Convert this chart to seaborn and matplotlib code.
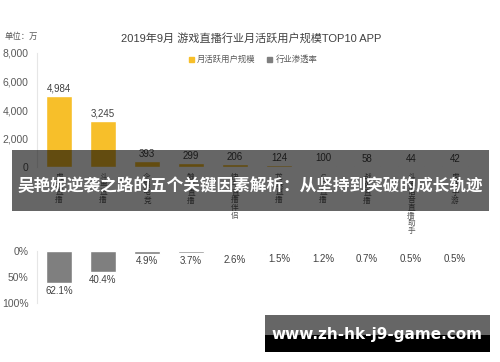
import matplotlib
matplotlib.use("Agg")
import matplotlib.pyplot as plt
from matplotlib.patches import Rectangle, Patch
from matplotlib.ticker import FuncFormatter
import seaborn as sns
import pandas as pd

# data
apps = ["虎牙直播", "斗鱼直播", "企鹅电竞", "触手直播", "快手直播伴侣",
        "龙珠直播", "CC直播", "战旗直播", "斗鱼语音直播助手", "虎牙手游"]
mau = [4984, 3245, 393, 299, 206, 124, 100, 58, 44, 42]          # 万
penetration = [62.1, 40.4, 4.9, 3.7, 2.6, 1.5, 1.2, 0.7, 0.5, 0.5]  # %

title = "2019年9月 游戏直播行业月活跃用户规模TOP10 APP"
unit_text = "单位：万"
legend_labels = ["月活跃用户规模", "行业渗透率"]
banner_text = "吴艳妮逆袭之路的五个关键因素解析：从坚持到突破的成长轨迹"
site_text = "www.zh-hk-j9-game.com"

yellow = "#F7BF2A"
gray = "#7F7F7F"
txt = "#595959"

sns.set_theme(style="white")
plt.rcParams['font.family'] = ['Liberation Sans', 'Noto Sans CJK SC', 'DejaVu Sans']

df = pd.DataFrame({"app": apps, "mau": mau, "pen": penetration})

fig = plt.figure(figsize=(5, 3.62), dpi=100)
W, H = 500, 362

def fx(px):
    return px / W

def fy(py):
    return 1 - py / H

# top panel: monthly active users
ax1 = fig.add_axes([fx(37), fy(167), fx(440), (167 - 53) / H])
sns.barplot(data=df, x="app", y="mau", color=yellow, width=0.6, saturation=1, ax=ax1)
ax1.set_ylim(0, 8000)
ax1.set_xlim(-0.5, 9.5)
ax1.set_yticks([0, 2000, 4000, 6000, 8000])
ax1.yaxis.set_major_formatter(FuncFormatter(lambda v, p: f"{int(v):,}"))
ax1.set_xlabel("")
ax1.set_ylabel("")
ax1.set_xticks(range(len(apps)))
ax1.set_xticklabels(["\n".join(a) for a in apps], fontsize=5.5, color=txt,
                    linespacing=1.1, va="top")
ax1.tick_params(axis="x", length=0, pad=5)
ax1.tick_params(axis="y", length=0, pad=6, labelsize=7.5, labelcolor=txt)
for i, v in enumerate(mau):
    ax1.text(i, v + 150, f"{v:,}", ha="center", va="bottom", fontsize=7, color="#404040")

# bottom panel: penetration
ax2 = fig.add_axes([fx(37), fy(303), fx(440), (303 - 251) / H])
sns.barplot(data=df, x="app", y="pen", color=gray, width=0.6, saturation=1, ax=ax2)
ax2.set_ylim(100, 0)
ax2.set_xlim(-0.5, 9.5)
ax2.set_yticks([0, 50, 100])
ax2.yaxis.set_major_formatter(FuncFormatter(lambda v, p: f"{int(v)}%"))
ax2.set_xlabel("")
ax2.set_ylabel("")
ax2.set_xticks([])
ax2.tick_params(axis="y", length=0, pad=6, labelsize=7.5, labelcolor=txt)
for i, v in enumerate(penetration):
    ax2.text(i, max(v, 1.5) + 5, f"{v}%", ha="center", va="top", fontsize=7, color="#404040")

for ax in (ax1, ax2):
    for s in ["top", "right", "bottom"]:
        ax.spines[s].set_visible(False)
    ax.spines["left"].set_color("#E6E6E6")
    ax.spines["left"].set_linewidth(0.8)

# header
fig.text(fx(251), fy(38), title, ha="center", va="center", fontsize=8, color="#404040")
fig.text(fx(5), fy(37), unit_text, ha="left", va="center", fontsize=6, color=txt)
handles = [Patch(color=yellow), Patch(color=gray)]
fig.legend(handles, legend_labels, loc="center", bbox_to_anchor=(fx(253), fy(60)), ncol=2,
           frameon=False, fontsize=6, handlelength=0.6, handleheight=0.6,
           handletextpad=0.4, columnspacing=1.4, labelcolor=txt)

# overlay banner
fig.patches.append(Rectangle((fx(12), fy(211)), fx(477), 61 / H, transform=fig.transFigure,
                             facecolor="black", alpha=0.6, edgecolor="none", zorder=10))
fig.text(0.5, fy(186), banner_text, ha="center", va="center", fontsize=12,
         fontweight="bold", color="white", zorder=11,
         family=['Noto Sans CJK SC', 'DejaVu Sans'])

# site tag
fig.patches.append(Rectangle((fx(265), fy(335)), fx(225), 20 / H, transform=fig.transFigure,
                             facecolor="#666666", edgecolor="none", zorder=10))
fig.patches.append(Rectangle((fx(265), fy(352)), fx(225), 17 / H, transform=fig.transFigure,
                             facecolor="black", edgecolor="none", zorder=10))
fig.text(fx(377), fy(335), site_text, ha="center", va="center", fontsize=11,
         fontweight="bold", color="white", zorder=11, family=['DejaVu Sans'])

fig.savefig("out.png", dpi=100)
